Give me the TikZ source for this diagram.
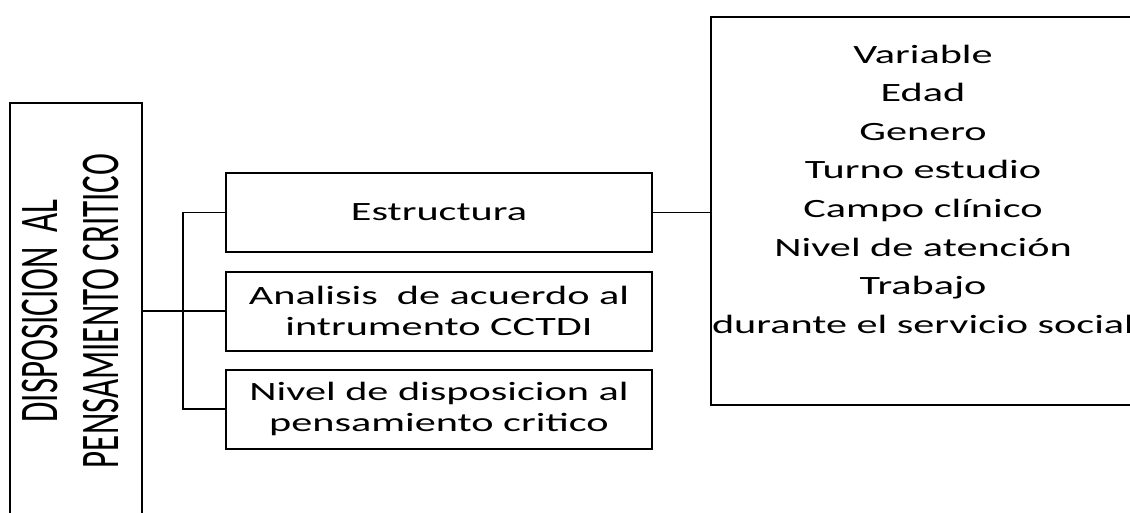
\documentclass[tikz,border=0pt]{standalone}
\usepackage{fontspec}
\setmainfont{Carlito}
\newfontfamily\widefont[FakeStretch=1.6]{Carlito}
\newfontfamily\sidefont{Carlito}
\tikzset{
  box/.style={draw, line width=2pt, inner sep=0pt, align=center},
  smallbox/.style={box, minimum width=426pt, minimum height=79pt,
    font=\widefont\fontsize{26.4}{31.5}\selectfont},
  conn/.style={line width=1.8pt}
}
\begin{document}
\begin{tikzpicture}[x=1pt,y=1pt]
\clip (0,0) rectangle (1130,-512);
\useasboundingbox (0,0) rectangle (1130,-512);
% left vertical box
\node[box, minimum width=132pt, minimum height=416pt] (L) at (76,-311)
  {\rotatebox{90}{\scalebox{1}[1.65]{\sidefont\fontsize{33}{36.4}\selectfont\begin{tabular}{@{}c@{}}DISPOSICION\ \ AL\\PENSAMIENTO CRITICO\end{tabular}}}};
% middle boxes
\node[smallbox] (B1) at (439,-212.5) {Estructura};
\node[smallbox] (B2) at (439,-311) {Analisis\ \ de acuerdo al\\intrumento CCTDI};
\node[smallbox] (B3) at (439,-409) {Nivel de disposicion al\\pensamiento critico};
% right box
\node[box, minimum width=428pt, minimum height=388pt] (V) at (925,-211) {};
\node[align=center, inner sep=0pt, anchor=north,
  font=\widefont\fontsize{26.4}{38.6}\selectfont] (VT) at (923,-44.5)
  {Variable\\Edad\\Genero\\Turno estudio\\Campo clínico\\Nivel de atención\\Trabajo\\durante el servicio social};
% connectors
\draw[conn] (L.east) -- (B2.west);
\draw[conn] (B1.west) -- ++(-42,0) |- (B3.west);
\draw[conn] (B1.east) -- (B1.east -| V.west);
\end{tikzpicture}
\end{document}
